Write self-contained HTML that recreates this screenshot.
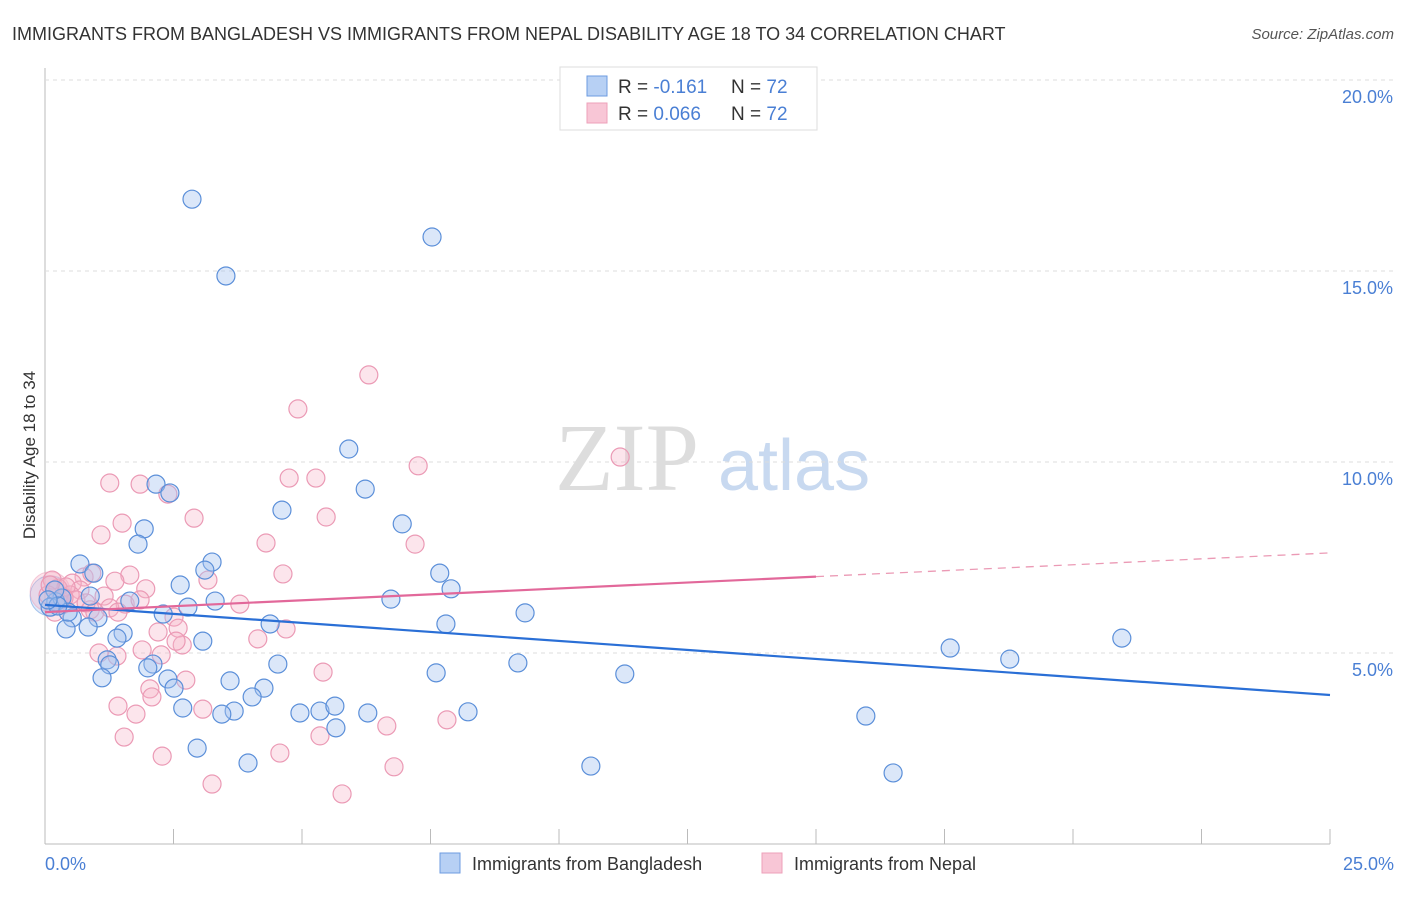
<!DOCTYPE html>
<html><head><meta charset="utf-8"><style>
body{margin:0;background:#fff;font-family:"Liberation Sans",sans-serif}
svg text{font-family:"Liberation Sans",sans-serif}
</style></head><body>
<svg id="c" width="1406" height="892">
<text x="12" y="40" font-size="18" fill="#333">IMMIGRANTS FROM BANGLADESH VS IMMIGRANTS FROM NEPAL DISABILITY AGE 18 TO 34 CORRELATION CHART</text>
<text x="1394" y="39" font-size="15" fill="#555" text-anchor="end" font-style="italic">Source: ZipAtlas.com</text>
<g>
<text x="555" y="490" font-size="96" fill="#ddd" font-family="Liberation Serif" style="font-family:'Liberation Serif'">ZIP</text>
<text x="718" y="490" font-size="72" fill="#c8d9f0">atlas</text></g>
<g id="grid"></g><g id="marks"></g>
<text x="35" y="455" font-size="17" fill="#333" text-anchor="middle" transform="rotate(-90 35 455)">Disability Age 18 to 34</text>
<text x="45" y="870" font-size="18" fill="#4a7fd4">0.0%</text>
<text x="1394" y="870" font-size="18" fill="#4a7fd4" text-anchor="end">25.0%</text>
<g>
<rect x="560" y="67" width="257" height="63" fill="#fff" stroke="#ddd"/>
<rect x="587" y="76" width="20" height="20" fill="#b7d0f4" stroke="#6c9be0"/>
<rect x="587" y="103" width="20" height="20" fill="#f8c6d6" stroke="#eea0ba"/>
<text x="618" y="93" font-size="19" fill="#333">R = <tspan fill="#4a7fd4">-0.161</tspan><tspan x="731">N = </tspan><tspan fill="#4a7fd4">72</tspan></text>
<text x="618" y="120" font-size="19" fill="#333">R = <tspan fill="#4a7fd4">0.066</tspan><tspan x="731">N = </tspan><tspan fill="#4a7fd4">72</tspan></text>
</g>
<g>
<rect x="440" y="853" width="20" height="20" fill="#b7d0f4" stroke="#6c9be0"/>
<text x="472" y="870" font-size="18" fill="#333">Immigrants from Bangladesh</text>
<rect x="762" y="853" width="20" height="20" fill="#f8c6d6" stroke="#eea0ba"/>
<text x="794" y="870" font-size="18" fill="#333">Immigrants from Nepal</text>
</g>
</svg>
<script>
const yTicks=[5,10,15,20];
const yTickLabels=["5.0%","10.0%","15.0%","20.0%"];
const xTicks=[0,2.5,5,7.5,10,12.5,15,17.5,20,22.5,25];
const bangX=[2.86,7.53,3.52,5.91,6.23,2.16,2.43,4.61,6.95,1.93,1.81,0.68,3.25,3.11,7.68,0.95,7.90,2.63,6.73,3.31,1.65,0.21,9.34,2.78,2.30,1.03,0.53,0.84,0.41,7.80,4.38,1.52,1.40,3.07,17.61,20.95,18.77,1.21,1.26,2.10,2.00,4.53,9.20,1.11,7.61,11.28,3.60,2.39,2.51,4.26,4.03,2.68,3.68,3.44,4.96,5.35,5.64,6.28,8.23,5.66,15.97,2.96,3.95,10.62,16.50,0.10,0.33,0.19,0.45,0.88,0.25,0.06];
const bangY=[16.88,15.89,14.87,10.34,9.29,9.42,9.19,8.74,8.38,8.25,7.85,7.33,7.38,7.17,7.09,7.09,6.68,6.78,6.41,6.36,6.36,6.34,6.05,6.20,6.02,5.92,5.92,5.68,5.63,5.76,5.76,5.52,5.39,5.31,5.13,5.39,4.84,4.82,4.69,4.71,4.61,4.71,4.74,4.35,4.48,4.45,4.27,4.32,4.08,4.08,3.85,3.56,3.48,3.40,3.43,3.48,3.61,3.43,3.46,3.04,3.35,2.51,2.12,2.04,1.86,6.20,6.44,6.65,6.07,6.49,6.23,6.39];
const nepX=[6.30,4.92,7.26,11.19,1.26,1.85,2.39,2.90,5.47,4.75,5.27,1.50,1.09,7.20,4.30,0.76,1.65,0.91,3.17,4.63,0.53,1.36,1.96,3.79,1.15,0.68,1.56,0.88,0.29,0.25,2.51,2.20,2.59,2.67,2.55,4.69,4.14,1.05,1.40,1.89,2.26,5.41,2.74,2.04,2.08,1.42,1.77,3.07,6.65,7.82,5.35,1.54,2.28,4.57,3.25,6.79,5.78,0.14,0.06,0.33,0.49,0.41,0.19,0.60,0.37,1.26,0.80,0.97,1.85,1.42,0.10];
const nepY=[12.28,11.39,9.90,10.13,9.45,9.42,9.16,8.53,8.56,9.58,9.58,8.40,8.09,7.85,7.88,6.99,7.04,7.09,6.91,7.07,6.83,6.88,6.68,6.28,6.49,6.65,6.28,6.13,6.39,6.70,5.94,5.55,5.65,5.21,5.31,5.63,5.37,5.00,4.92,5.08,4.95,4.50,4.29,4.06,3.85,3.61,3.40,3.53,3.09,3.25,2.83,2.80,2.30,2.38,1.57,2.02,1.31,6.91,6.52,6.26,6.52,6.73,6.07,6.39,6.44,6.18,6.31,6.07,6.39,6.07,6.78];
const bangTrend=[6.26,3.90]; // at x=0 and x=25
const nepTrend=[6.07,7.62];  // at x=0 and x=25, solid to 15
const NS="http://www.w3.org/2000/svg";
const X=v=>45+v/25*1285, Y=v=>844-v/5*191;
function mk(t,a,p){const e=document.createElementNS(NS,t);for(const k in a)e.setAttribute(k,a[k]);p.appendChild(e);return e;}
const g=document.getElementById('grid'),m=document.getElementById('marks');
let ax=mk('line',{x1:45,y1:68,x2:45,y2:844,stroke:'#bbb'},g);

let bx=mk('line',{x1:45,y1:844,x2:1330,y2:844,stroke:'#bbb'},g);

yTicks.forEach((t,i)=>{
 let l=mk('line',{x1:45,x2:1394,y1:Y(t),y2:Y(t),stroke:'#ddd','stroke-dasharray':'4,4'},g);
 
 let tx=mk('text',{x:1393,y:Y(t)+23,'font-size':18,fill:'#4a7fd4','text-anchor':'end'},g);tx.textContent=yTickLabels[i];
 
});
xTicks.forEach(t=>{let l=mk('line',{x1:X(t),x2:X(t),y1:829,y2:844,stroke:'#bbb'},g);
 });
function dots(xs,ys,fill,stroke,name){xs.forEach((x,i)=>{let c=mk('circle',{cx:X(x),cy:Y(ys[i]),r:9,fill:fill,stroke:stroke,'stroke-width':1.2},m);
 });}
let bb=mk('circle',{cx:X(0.1),cy:Y(6.5),r:20,fill:'rgba(164,196,240,0.35)',stroke:'rgba(91,143,217,0.5)'},m);

let nb=mk('circle',{cx:X(0.1),cy:Y(6.6),r:20,fill:'rgba(245,180,200,0.35)',stroke:'rgba(235,154,181,0.5)'},m);

dots(nepX,nepY,'rgba(245,180,200,0.35)','#eb9ab5','nepal-point');
dots(bangX,bangY,'rgba(164,196,240,0.4)','#5b8fd9','bangladesh-point');
let bl=mk('line',{x1:X(0),y1:Y(bangTrend[0]),x2:X(25),y2:Y(bangTrend[1]),stroke:'#2a6fd6','stroke-width':2.2},m);

const nAt=x=>nepTrend[0]+(nepTrend[1]-nepTrend[0])*x/25;
let nl=mk('line',{x1:X(0),y1:Y(nAt(0)),x2:X(15),y2:Y(nAt(15)),stroke:'#e2689a','stroke-width':2.2},m);

let nd=mk('line',{x1:X(15),y1:Y(nAt(15)),x2:X(25),y2:Y(nAt(25)),stroke:'#eb9ab5','stroke-width':1.3,'stroke-dasharray':'8,6'},m);

</script>
</body></html>
